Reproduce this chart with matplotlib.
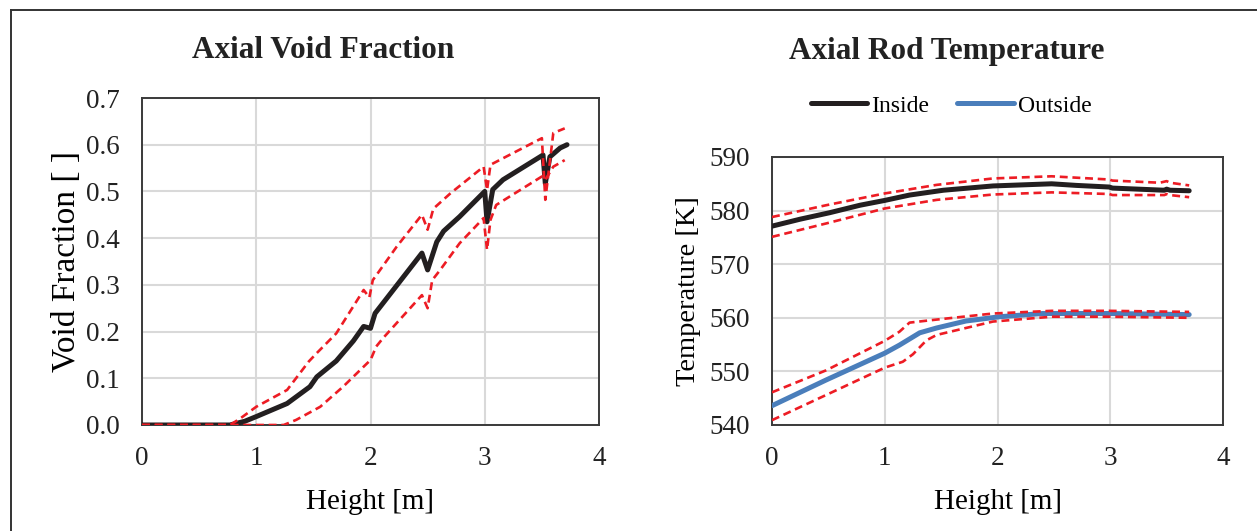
import matplotlib
matplotlib.use("Agg")
import matplotlib.pyplot as plt
from matplotlib.lines import Line2D
from matplotlib.ticker import FormatStrFormatter

plt.rcParams['font.family'] = ['Liberation Serif', 'DejaVu Serif']

# axial void fraction: mean and bounds
vf_x = [0, 0.4, 0.77, 0.9, 1.0, 1.27, 1.47, 1.53, 1.7, 1.85, 1.94, 2.0, 2.04, 2.11, 2.45, 2.5,
        2.58, 2.64, 2.78, 3.0, 3.02, 3.07, 3.16, 3.51, 3.53, 3.57, 3.66, 3.72]
vf_y = [0, 0, 0, 0.008, 0.018, 0.046, 0.082, 0.103, 0.137, 0.18, 0.211, 0.207, 0.239, 0.261, 0.368, 0.332,
        0.392, 0.415, 0.446, 0.5, 0.435, 0.504, 0.525, 0.578, 0.517, 0.574, 0.593, 0.6]

vu_x = [0, 0.77, 0.86, 1.0, 1.27, 1.46, 1.53, 1.7, 1.94, 1.99, 2.02, 2.23, 2.45, 2.5, 2.55,
        2.7, 2.99, 3.02, 3.05, 3.16, 3.5, 3.53, 3.6, 3.7]
vu_y = [0, 0, 0.014, 0.039, 0.075, 0.136, 0.154, 0.196, 0.289, 0.273, 0.31, 0.382, 0.45, 0.418, 0.463,
        0.496, 0.553, 0.503, 0.557, 0.571, 0.614, 0.482, 0.625, 0.635]

vl_x = [0, 1.24, 1.35, 1.56, 1.76, 1.97, 2.0, 2.05, 2.11, 2.45, 2.5, 2.54, 2.61, 2.78, 2.99,
        3.02, 3.05, 3.1, 3.5, 3.53, 3.6, 3.7]
vl_y = [0, 0, 0.011, 0.039, 0.082, 0.132, 0.139, 0.168, 0.186, 0.278, 0.25, 0.31, 0.332, 0.389, 0.443,
        0.375, 0.439, 0.471, 0.532, 0.525, 0.553, 0.567]

# axial rod temperature: inside / outside with bounds
ti_x = [0, 0.25, 0.51, 0.78, 1.0, 1.22, 1.52, 1.96, 2.48, 2.7, 2.99, 3.02, 3.48, 3.5, 3.53, 3.7]
ti_y = [577.1, 578.4, 579.6, 581.0, 581.9, 582.9, 583.8, 584.6, 585.0, 584.7, 584.4, 584.2, 583.8, 584.0, 583.8, 583.7]
tiu_x = [0, 0.48, 1.0, 1.46, 1.96, 2.48, 2.99, 3.02, 3.44, 3.5, 3.53, 3.7]
tiu_y = [578.8, 581.0, 583.2, 584.8, 586.0, 586.4, 585.8, 585.6, 585.2, 585.5, 585.2, 584.7]
til_x = [0, 0.48, 1.0, 1.46, 1.96, 2.48, 2.99, 3.02, 3.48, 3.5, 3.53, 3.7]
til_y = [575.1, 577.6, 580.4, 582.0, 583.0, 583.4, 583.1, 582.9, 582.9, 583.1, 582.9, 582.5]

to_x = [0, 0.48, 1.0, 1.13, 1.31, 1.46, 1.72, 2.02, 2.4, 3.0, 3.7]
to_y = [543.6, 548.4, 553.4, 554.9, 557.2, 558.1, 559.4, 560.2, 560.8, 560.8, 560.6]
tou_x = [0, 0.48, 1.0, 1.13, 1.22, 1.43, 1.96, 2.48, 2.99, 3.7]
tou_y = [546.1, 550.2, 555.7, 557.4, 559.1, 559.6, 560.8, 561.3, 561.3, 561.1]
tol_x = [0, 0.48, 1.0, 1.16, 1.25, 1.37, 1.46, 1.96, 2.48, 2.99, 3.7]
tol_y = [540.9, 545.6, 550.7, 551.8, 553.2, 555.8, 556.8, 559.3, 560.2, 560.2, 560.0]

BLACK = '#231f20'
BLUE = '#4a7ebb'
RED = '#ed1c24'
GRID = '#d9d9d9'
W, H = 1257, 531

fig = plt.figure(figsize=(W / 100, H / 100), dpi=100)
ax1 = fig.add_axes([142 / W, 1 - 425 / H, (599 - 142) / W, (425 - 98) / H])
ax2 = fig.add_axes([772 / W, 1 - 425 / H, (1223 - 772) / W, (425 - 157) / H])

dash = (0, (3, 1.8))
ax1.plot(vf_x, vf_y, color=BLACK, lw=3.6, solid_capstyle='round', zorder=3)
ax1.plot(vu_x, vu_y, color=RED, lw=1.9, ls=dash, zorder=4)
ax1.plot(vl_x, vl_y, color=RED, lw=1.9, ls=dash, zorder=4)
ax1.set_ylim(0, 0.7)
ax1.set_yticks([0, 0.1, 0.2, 0.3, 0.4, 0.5, 0.6, 0.7])
ax1.yaxis.set_major_formatter(FormatStrFormatter('%.1f'))
ax1.set_ylabel('Void Fraction [ ]', fontsize=24, labelpad=3)

ax2.plot(ti_x, ti_y, color=BLACK, lw=3.6, solid_capstyle='round', zorder=3, label='Inside')
ax2.plot(to_x, to_y, color=BLUE, lw=3.6, solid_capstyle='round', zorder=3, label='Outside')
for xs, ys in [(tiu_x, tiu_y), (til_x, til_y), (tou_x, tou_y), (tol_x, tol_y)]:
    ax2.plot(xs, ys, color=RED, lw=1.9, ls=dash, zorder=4)
ax2.set_ylim(540, 590)
ax2.set_yticks(range(540, 591, 10))
ax2.set_ylabel('Temperature [K]', fontsize=20.5, labelpad=6)

for ax in (ax1, ax2):
    ax.set_xlim(0, 4)
    ax.set_xticks(range(0, 5))
    ax.set_xlabel('Height [m]', fontsize=21, labelpad=13)
    ax.grid(True, color=GRID, lw=1.5)
    ax.set_axisbelow(True)
    ax.tick_params(length=0, labelsize=19.5, colors='#222222')
    ax.tick_params(axis='y', pad=16)
    ax.tick_params(axis='x', pad=15)
    for s in ax.spines.values():
        s.set_color('#3a3a3a')
        s.set_linewidth(1.4)

fig.text(323 / W, 1 - 51 / H, 'Axial Void Fraction', fontsize=22.5, fontweight='bold',
         ha='center', va='center', color='#222222')
fig.text(947 / W, 1 - 51 / H, 'Axial Rod Temperature', fontsize=22.5, fontweight='bold',
         ha='center', va='center', color='#222222')

fig.legend(handles=ax2.get_lines()[:2], loc='center', bbox_to_anchor=(951 / W, 1 - 106 / H),
           ncol=2, frameon=False, fontsize=17, handlelength=2.4, handletextpad=0.15,
           columnspacing=1.2)

# outer chart border (only left and top edges fall inside the picture)
fig.add_artist(Line2D([11 / W, 11 / W], [0, 1 - 10 / H], color='#333333', lw=1.4))
fig.add_artist(Line2D([11 / W, 1], [1 - 10 / H, 1 - 10 / H], color='#333333', lw=1.4))

fig.savefig('out.png', dpi=100)
